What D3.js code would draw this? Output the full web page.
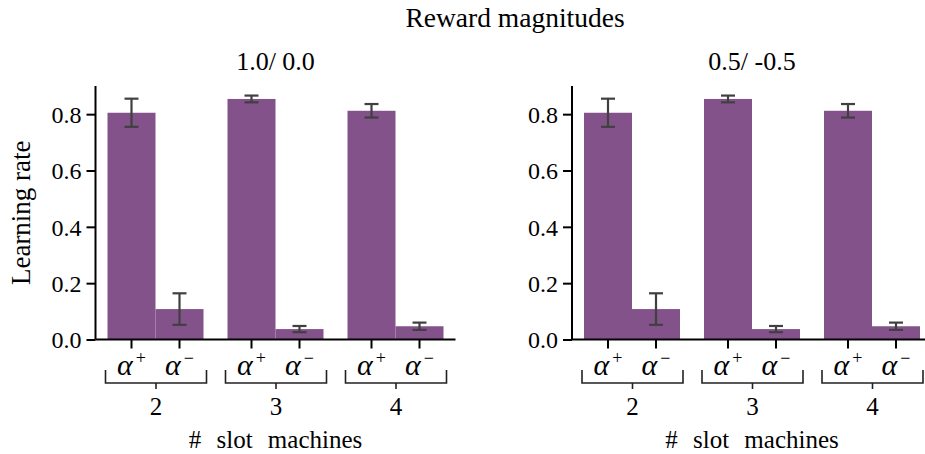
<!DOCTYPE html>
<html>
<head>
<meta charset="utf-8">
<script src="https://cdn.jsdelivr.net/npm/d3@7"></script>
<style>
  body { margin: 0; background: #fff; }
  svg text { font-family: "Liberation Serif", "Times New Roman", Times, serif; fill: #000; }
</style>
</head>
<body>
<div id="chart"></div>
<script>
// chart data
var figTitle = "Reward magnitudes";
var panelTitles = ["1.0/ 0.0", "0.5/ -0.5"];
var groups = ["2", "3", "4"];
var params = ["+", "\u2212"];
var meansA = [[0.805, 0.108], [0.854, 0.037], [0.812, 0.047]];
var errsA = [[0.050, 0.056], [0.012, 0.011], [0.024, 0.013]];
var meansB = [[0.805, 0.108], [0.854, 0.037], [0.812, 0.047]];
var errsB = [[0.050, 0.056], [0.012, 0.011], [0.024, 0.013]];
var yTicks = [0, 0.2, 0.4, 0.6, 0.8];
var yLabel = "Learning rate";
var xLabel = "# slot machines";

var W = 925, H = 454,
	barColor = "#84528a",
	errColor = "#404040",
	plotW = 360,
	plotTop = 86, plotBottom = 339.5;

var svg = d3.select("#chart").append("svg")
	.attr("width", W)
	.attr("height", H);

svg.append("text")
	.attr("x", 515)
	.attr("y", 27)
	.attr("text-anchor", "middle")
	.attr("font-size", 27.5)
	.text(figTitle);

var yScale = d3.scaleLinear().domain([0, 0.9]).range([plotBottom, plotTop]);
var xGroup = d3.scaleBand().domain(groups).range([0, plotW]).padding(0);
var xBar = d3.scaleBand().domain(params).range([0, xGroup.bandwidth()])
	.paddingInner(0).paddingOuter(0.25);

function drawPanel(x0, title, means, errs, showYLabel) {
	var g = svg.append("g").attr("transform", "translate(" + x0 + ",0)");

	g.append("text")
		.attr("x", plotW / 2)
		.attr("y", 70)
		.attr("text-anchor", "middle")
		.attr("font-size", 26)
		.text(title);

	var rows = [];
	groups.forEach(function(grp, i) {
		params.forEach(function(p, j) {
			rows.push({ group: grp, param: p, mean: means[i][j], err: errs[i][j] });
		});
	});

	// bars
	g.selectAll("rect.bar")
		.data(rows)
		.enter().append("rect")
		.attr("class", "bar")
		.attr("x", function(d) { return xGroup(d.group) + xBar(d.param); })
		.attr("y", function(d) { return yScale(d.mean); })
		.attr("width", xBar.bandwidth())
		.attr("height", function(d) { return yScale(0) - yScale(d.mean); })
		.attr("fill", barColor);

	// error bars
	var eb = g.selectAll("g.err")
		.data(rows)
		.enter().append("g")
		.attr("class", "err")
		.attr("stroke", errColor)
		.attr("stroke-width", 2.2);
	function cx(d) { return xGroup(d.group) + xBar(d.param) + xBar.bandwidth() / 2; }
	eb.append("line")
		.attr("x1", cx).attr("x2", cx)
		.attr("y1", function(d) { return yScale(d.mean - d.err); })
		.attr("y2", function(d) { return yScale(d.mean + d.err); });
	[-1, 1].forEach(function(s) {
		eb.append("line")
			.attr("x1", function(d) { return cx(d) - 7; })
			.attr("x2", function(d) { return cx(d) + 7; })
			.attr("y1", function(d) { return yScale(d.mean + s * d.err); })
			.attr("y2", function(d) { return yScale(d.mean + s * d.err); });
	});

	// y axis
	var yAxis = g.append("g")
		.call(d3.axisLeft(yScale).tickValues(yTicks).tickFormat(d3.format(".1f")).tickSize(9).tickPadding(5));
	yAxis.attr("font-family", null).attr("font-size", null);
	yAxis.select(".domain").attr("d", "M0," + plotTop + "V" + plotBottom).attr("stroke-width", 2);
	yAxis.selectAll(".tick line").attr("stroke-width", 2);
	yAxis.selectAll(".tick text").attr("font-size", 24).attr("fill", "#000").attr("dy", "0.34em");

	// x axis line + ticks at bar centres
	g.append("line")
		.attr("x1", 0).attr("x2", plotW)
		.attr("y1", plotBottom).attr("y2", plotBottom)
		.attr("stroke", "#000").attr("stroke-width", 2);
	g.selectAll("line.xtick")
		.data(rows)
		.enter().append("line")
		.attr("x1", cx).attr("x2", cx)
		.attr("y1", plotBottom).attr("y2", plotBottom + 9)
		.attr("stroke", "#000").attr("stroke-width", 2);

	// alpha labels
	var lab = g.selectAll("text.alpha")
		.data(rows)
		.enter().append("text")
		.attr("class", "alpha")
		.attr("x", cx)
		.attr("y", 375)
		.attr("text-anchor", "middle");
	lab.append("tspan")
		.attr("font-size", 30)
		.attr("font-style", "italic")
		.text("\u03b1");
	lab.append("tspan")
		.attr("font-size", 18)
		.attr("dx", 3)
		.attr("dy", -11)
		.text(function(d) { return d.param; });

	// group brackets
	var br = g.selectAll("g.bracket")
		.data(groups)
		.enter().append("g")
		.attr("class", "bracket")
		.attr("transform", function(d) { return "translate(" + xGroup(d) + ",0)"; });
	br.append("path")
		.attr("d", "M10,370V383H111V370")
		.attr("fill", "none")
		.attr("stroke", "#222")
		.attr("stroke-width", 1.6);
	br.append("line")
		.attr("x1", 60.5).attr("x2", 60.5)
		.attr("y1", 383).attr("y2", 389)
		.attr("stroke", "#222")
		.attr("stroke-width", 1.6);
	br.append("text")
		.attr("x", 60.5)
		.attr("y", 415)
		.attr("text-anchor", "middle")
		.attr("font-size", 25)
		.text(function(d) { return d; });

	g.append("text")
		.attr("x", plotW / 2)
		.attr("y", 448)
		.attr("text-anchor", "middle")
		.attr("font-size", 25)
		.attr("word-spacing", 9)
		.text(xLabel);

	if (showYLabel) {
		g.append("text")
			.attr("transform", "translate(" + (-66) + "," + ((plotTop + plotBottom) / 2) + ") rotate(-90)")
			.attr("text-anchor", "middle")
			.attr("font-size", 27)
			.text(yLabel);
	}
}

drawPanel(95.5, panelTitles[0], meansA, errsA, true);
drawPanel(572, panelTitles[1], meansB, errsB, false);
</script>
</body>
</html>
